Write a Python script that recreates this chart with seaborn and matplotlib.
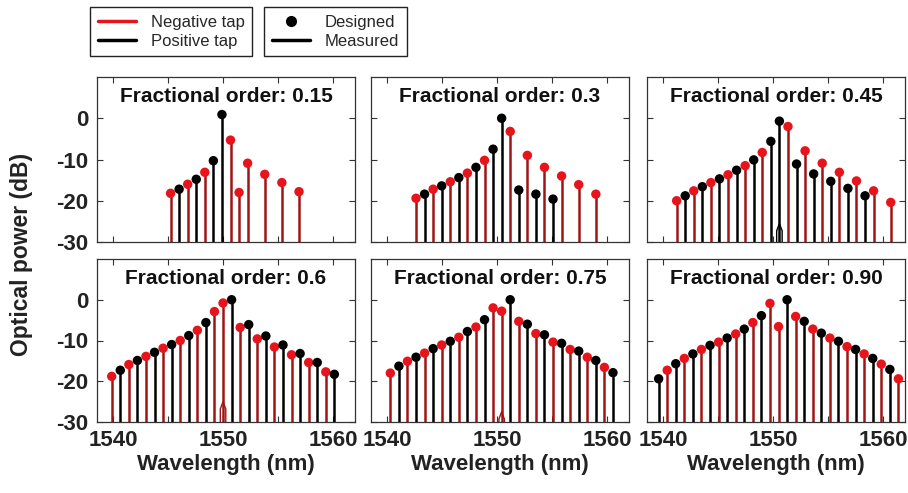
import numpy as np
import pandas as pd
import seaborn as sns
import matplotlib
matplotlib.use("Agg")
import matplotlib.pyplot as plt
from matplotlib.lines import Line2D
from matplotlib import font_manager

# fractional orders shown in the six panels
ORDERS = ["0.15", "0.3", "0.45", "0.6", "0.75", "0.90"]

# tap wavelengths (nm), designed power (dB), tap sign (N = negative, P = positive)
wl_015 = [1545.20, 1545.98, 1546.76, 1547.54, 1548.32, 1549.10, 1549.88,
          1550.66, 1551.44, 1552.22, 1553.78, 1555.34, 1556.90]
pw_015 = [-18.2, -17.2, -16.0, -14.8, -13.1, -10.3, 0.9,
          -5.3, -18.0, -10.9, -13.6, -15.6, -17.8]
tap_015 = list("NPNPNPPNNNNNN")

wl_030 = [1542.60, 1543.38, 1544.16, 1544.94, 1545.72, 1546.50, 1547.28,
          1548.06, 1548.84, 1549.62, 1550.40, 1551.18, 1551.96, 1552.74,
          1553.52, 1554.30, 1555.08, 1555.86, 1557.42, 1558.98]
pw_030 = [-19.4, -18.4, -17.2, -16.4, -15.4, -14.4, -13.3, -11.9, -10.2, -7.5,
          0.0, -3.2, -17.4, -9.0, -18.4, -11.9, -19.6, -14.0, -16.1, -18.4]
tap_030 = list("NPNPNPNPNPPNPNPNPNNN")

wl_045 = [1541.20, 1541.98, 1542.76, 1543.54, 1544.32, 1545.10, 1545.88,
          1546.66, 1547.44, 1548.22, 1549.00, 1549.78, 1550.56, 1551.34,
          1552.12, 1552.90, 1553.68, 1554.46, 1555.24, 1556.02, 1556.80,
          1557.58, 1558.36, 1559.14, 1560.70]
pw_045 = [-20.0, -18.8, -17.6, -16.6, -15.6, -14.7, -13.7, -12.6, -11.5, -10.1,
          -8.3, -5.6, -0.7, -2.0, -11.1, -7.9, -13.5, -10.9, -15.3, -13.1,
          -17.0, -15.2, -18.8, -17.6, -20.4]
tap_045 = list("NPNPNPNPNPNPPNPNPNPNPNPNN")

wl_060 = [1539.84, 1540.62, 1541.40, 1542.18, 1542.96, 1543.74, 1544.52,
          1545.30, 1546.08, 1546.86, 1547.64, 1548.42, 1549.20, 1549.98,
          1550.76, 1551.54, 1552.32, 1553.10, 1553.88, 1554.66, 1555.44,
          1556.22, 1557.00, 1557.78, 1558.56, 1559.34, 1560.12]
pw_060 = [-18.8, -17.3, -15.9, -14.9, -13.9, -12.9, -11.9, -11.0, -10.0, -8.8,
          -7.5, -5.6, -2.9, -0.8, 0.0, -6.8, -6.1, -9.6, -8.9, -11.6,
          -11.1, -13.5, -13.2, -15.4, -15.4, -17.7, -18.3]
tap_060 = list("NPNPNPNPNPNPNNPNPNPNPNPNPNP")

wl_075 = [1540.26, 1541.04, 1541.82, 1542.60, 1543.38, 1544.16, 1544.94,
          1545.72, 1546.50, 1547.28, 1548.06, 1548.84, 1549.62, 1550.40,
          1551.18, 1551.96, 1552.74, 1553.52, 1554.30, 1555.08, 1555.86,
          1556.64, 1557.42, 1558.20, 1558.98, 1559.76, 1560.54]
pw_075 = [-18.0, -16.3, -15.1, -14.1, -13.1, -12.0, -11.1, -10.2, -9.2, -7.8,
          -6.7, -4.9, -2.0, -2.8, 0.0, -5.3, -6.0, -8.3, -8.6, -10.4,
          -10.7, -12.2, -12.6, -14.1, -14.9, -16.6, -17.9]
tap_075 = list("NPNPNPNPNPNPNNPNPNPNPNPNPNP")

wl_090 = [1539.56, 1540.34, 1541.12, 1541.90, 1542.68, 1543.46, 1544.24,
          1545.02, 1545.80, 1546.58, 1547.36, 1548.14, 1548.92, 1549.70,
          1550.48, 1551.26, 1552.04, 1552.82, 1553.60, 1554.38, 1555.16,
          1555.94, 1556.72, 1557.50, 1558.28, 1559.06, 1559.84, 1560.62,
          1561.40]
pw_090 = [-19.4, -17.3, -15.7, -14.4, -13.3, -12.2, -11.2, -10.4, -9.4, -8.4,
          -7.2, -5.6, -3.9, -0.9, -6.6, 0.0, -4.1, -5.3, -7.2, -8.2,
          -9.4, -10.2, -11.5, -12.2, -13.3, -14.4, -15.8, -17.1, -19.4]
tap_090 = list("PNPNPNPNPNPNPNNPNPNPNPNPNPNPN")

# small measured feature near the centre (wavelength, peak dB, tap sign)
bump_wl = [None, None, 1550.56, 1549.98, 1550.40, None]
bump_pk = [None, None, -25.5, -25.0, -27.5, None]
bump_tap = [None, None, "P", "N", "N", None]

WL = [wl_015, wl_030, wl_045, wl_060, wl_075, wl_090]
PW = [pw_015, pw_030, pw_045, pw_060, pw_075, pw_090]
TAP = [tap_015, tap_030, tap_045, tap_060, tap_075, tap_090]

RED = "#e8141c"
DARKRED = "#9e1515"
BLACK = "#000000"
marker_col = {"N": RED, "P": BLACK}
stem_col = {"N": DARKRED, "P": BLACK}

frames = []
for order, w, p, t in zip(ORDERS, WL, PW, TAP):
    frames.append(pd.DataFrame({"order": order, "wl": w, "power": p, "tap": t}))
df = pd.concat(frames, ignore_index=True)

sns.set_theme(style="ticks")
names = {f.name for f in font_manager.fontManager.ttflist}
narrow = "Liberation Sans Narrow" if "Liberation Sans Narrow" in names else "Liberation Sans"
plt.rcParams["font.family"] = ["Liberation Sans", "DejaVu Sans"]
plt.rcParams["xtick.direction"] = "in"
plt.rcParams["ytick.direction"] = "in"
plt.rcParams["xtick.top"] = True
plt.rcParams["ytick.right"] = True

fig = plt.figure(figsize=(9.08, 4.93), dpi=100)
W, H = 908, 493
lefts = [97, 371, 647]
width = 258
rows = [(77, 242), (259, 422)]

for i, order in enumerate(ORDERS):
    r, c = divmod(i, 3)
    top, bot = rows[r]
    ax = fig.add_axes([lefts[c] / W, 1 - bot / H, width / W, (bot - top) / H])
    sub = df[df["order"] == order]

    ax.vlines(sub["wl"], -30, sub["power"],
              colors=[stem_col[t] for t in sub["tap"]], linewidth=1.8, zorder=2)
    if bump_wl[i] is not None:
        x0, pk = bump_wl[i], bump_pk[i]
        ax.plot([x0 - 0.25, x0 - 0.25, x0, x0 + 0.25, x0 + 0.25],
                [-30, pk - 1.8, pk, pk - 1.8, -30],
                color=stem_col[bump_tap[i]], linewidth=1.0, zorder=2)
    sns.scatterplot(data=sub, x="wl", y="power", hue="tap", palette=marker_col,
                    s=46, edgecolor="none", legend=False, ax=ax, zorder=3)

    ax.set_xlim(1538.5, 1562)
    ax.set_ylim(-30, 10)
    ax.set_xticks([1540, 1545, 1550, 1555, 1560])
    ax.set_yticks([0, -10, -20, -30])
    ax.tick_params(length=4, width=0.8, color="#333333", pad=6)
    for s in ax.spines.values():
        s.set_color("#333333")
        s.set_linewidth(0.9)

    if r == 1:
        ax.set_xticklabels(["1540", "", "1550", "", "1560"],
                           fontfamily=narrow, fontweight="bold", fontsize=16,
                           color="#222222")
        ax.set_xlabel("Wavelength (nm)", fontfamily=narrow, fontweight="bold",
                      fontsize=16, color="#222222", labelpad=2)
    else:
        ax.set_xticklabels([])
        ax.set_xlabel("")
    if c == 0:
        ax.set_yticklabels(["0", "-10", "-20", "-30"], fontfamily=narrow,
                           fontweight="bold", fontsize=16, color="#222222")
    else:
        ax.set_yticklabels([])
    ax.set_ylabel("")
    ax.text(0.5, 0.88, f"Fractional order: {order}", transform=ax.transAxes,
            ha="center", va="center", fontsize=15, fontweight="bold",
            color="#111111")

fig.text(22 / W, 0.483, "Optical power (dB)", rotation=90, ha="center",
         va="center", fontsize=16.5, fontweight="bold", color="#222222")

leg_kw = dict(frameon=True, fancybox=False, edgecolor="#222222",
              framealpha=1, fontsize=12, handlelength=2.3, borderaxespad=0,
              borderpad=0.45, labelspacing=0.25, handletextpad=0.9)
h1 = [Line2D([], [], color=RED, lw=2.5), Line2D([], [], color=BLACK, lw=2.5)]
l1 = fig.legend(h1, ["Negative tap", "Positive tap"], loc="upper left",
                bbox_to_anchor=(90 / W, 1 - 7 / H), **leg_kw)
h2 = [Line2D([], [], color=BLACK, marker="o", ms=7, ls="none"),
      Line2D([], [], color=BLACK, lw=2.5)]
l2 = fig.legend(h2, ["Designed", "Measured"], loc="upper left",
                bbox_to_anchor=(264 / W, 1 - 7 / H), **leg_kw)
for leg in (l1, l2):
    leg.get_frame().set_linewidth(1.0)

fig.savefig("out.png", dpi=100)
